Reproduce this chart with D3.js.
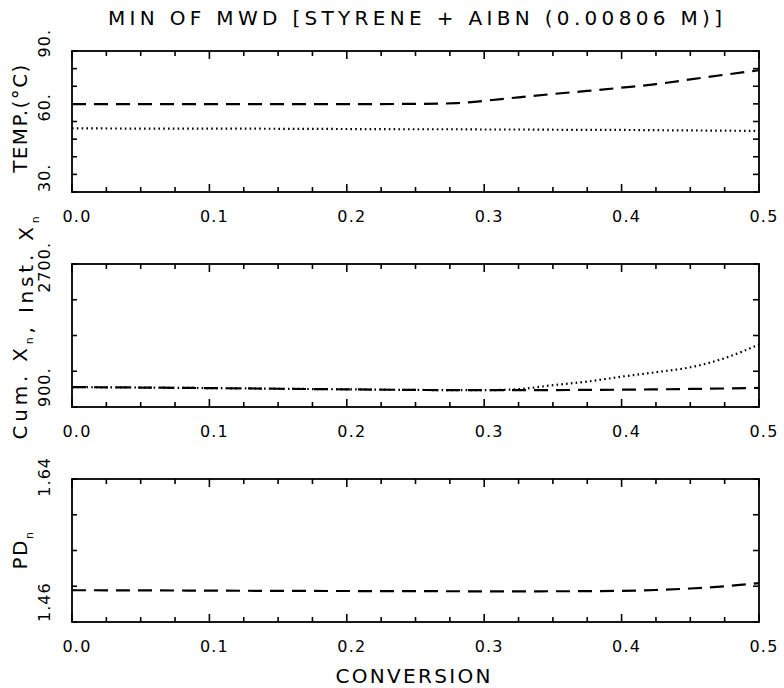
<!DOCTYPE html>
<html>
<head>
<meta charset="utf-8">
<script src="https://cdn.jsdelivr.net/npm/d3@7"></script>
<style>
  body { margin: 0; background: #fff; }
  svg { display: block; font-family: "DejaVu Sans", sans-serif; }
</style>
</head>
<body>
<div id="chart"></div>
<script>
// conversion grid shared by every curve
var conversion = [0, 0.05, 0.1, 0.15, 0.2, 0.25, 0.28, 0.3, 0.325, 0.35, 0.375, 0.4, 0.425, 0.45, 0.475, 0.5];

// panel 1 : temperature
var tempOpt  = [67.4, 67.4, 67.4, 67.4, 67.4, 67.5, 67.8, 68.8, 70.3, 71.7, 73.0, 74.4, 75.9, 77.9, 79.9, 81.8];
var tempIso  = [57.1, 57.0, 57.0, 56.9, 56.8, 56.7, 56.7, 56.6, 56.6, 56.5, 56.4, 56.4, 56.3, 56.2, 56.1, 56.0];

// panel 2 : number average chain length
var instXn = [1150, 1145, 1138, 1130, 1122, 1115, 1112, 1112, 1125, 1175, 1220, 1282, 1338, 1400, 1515, 1686];
var cumXn  = [1150, 1145, 1138, 1130, 1122, 1115, 1112, 1112, 1112, 1113, 1115, 1118, 1122, 1127, 1133, 1140];

// panel 3 : polydispersity
var pdn = [1.500, 1.4998, 1.4995, 1.4992, 1.499, 1.4988, 1.4987, 1.4986, 1.4986, 1.4987, 1.4988, 1.4992, 1.5003, 1.5022, 1.5050, 1.5090];

var xTickLabels = ["0.0", "0.1", "0.2", "0.3", "0.4", "0.5"];
var panels = [
  {top: 51,  bottom: 192, domain: [30, 90],     step: 7.5,   yTicks: [30, 60, 90],     yLabels: ["30.", "60.", "90."],
   series: [{v: tempOpt, dash: "14,8"}, {v: tempIso, dash: "1.6,3.2"}]},
  {top: 264, bottom: 407, domain: [900, 2700],  step: 450,   yTicks: [900, 2700],      yLabels: ["900.", "2700."],
   series: [{v: cumXn, dash: "14,8"}, {v: instXn, dash: "1.6,3.2"}]},
  {top: 479, bottom: 622, domain: [1.46, 1.64], step: 0.045, yTicks: [1.46, 1.64],     yLabels: ["1.46", "1.64"],
   series: [{v: pdn, dash: "14,8"}]}
];

var W = 784, H = 688;
var svg = d3.select("#chart").append("svg").attr("width", W).attr("height", H);

var x = d3.scaleLinear().domain([0, 0.5]).range([72, 759]);
var xt = d3.range(0, 0.5001, 0.025);
var majorX = d3.range(0, 0.5001, 0.1);
function isMajor(d) { return Math.abs(d * 10 - Math.round(d * 10)) < 1e-6; }

svg.append("text")
  .attr("x", 415).attr("y", 25)
  .attr("text-anchor", "middle")
  .attr("font-size", 20)
  .attr("textLength", 614).attr("lengthAdjust", "spacing")
  .text("MIN OF MWD [STYRENE + AIBN (0.00806 M)]");

panels.forEach(function(p, pi) {
  var y = d3.scaleLinear().domain(p.domain).range([p.bottom, p.top]);
  var g = svg.append("g");
  var yt = d3.range(p.domain[0], p.domain[1] + p.step / 2, p.step);

  // inward ticks, bottom and top
  [p.bottom, p.top].forEach(function(edge, k) {
    var dir = k === 0 ? -1 : 1;
    g.selectAll(null).data(xt).enter().append("line")
      .attr("x1", function(d) { return x(d); })
      .attr("x2", function(d) { return x(d); })
      .attr("y1", edge)
      .attr("y2", function(d) { return edge + dir * (isMajor(d) ? 8 : 5); })
      .attr("stroke", "#000").attr("stroke-width", 1.6);
  });
  // inward ticks, left and right
  [[x(0), 1, 5], [x(0.5), -1, 6]].forEach(function(s) {
    g.selectAll(null).data(yt).enter().append("line")
      .attr("x1", s[0]).attr("x2", s[0] + s[1] * s[2])
      .attr("y1", function(d) { return y(d); })
      .attr("y2", function(d) { return y(d); })
      .attr("stroke", "#000").attr("stroke-width", 1.6);
  });

  g.append("rect")
    .attr("x", x(0)).attr("y", p.top)
    .attr("width", x(0.5) - x(0)).attr("height", p.bottom - p.top)
    .attr("fill", "none").attr("stroke", "#000").attr("stroke-width", 1.8);

  // x tick labels
  g.selectAll(null).data(majorX).enter().append("text")
    .attr("x", function(d) { return x(d) + 5; })
    .attr("y", p.bottom + 30)
    .attr("text-anchor", "middle")
    .attr("font-size", 16).attr("letter-spacing", 1.2)
    .text(function(d, i) { return xTickLabels[i]; });

  // y tick labels, rotated; the top one sits above the frame
  var n = p.yTicks.length;
  g.selectAll(null).data(p.yTicks).enter().append("text")
    .attr("transform", function(d, i) {
      var yy = i === n - 1 ? y(d) - 22 : y(d);
      return "translate(50," + yy + ") rotate(-90)";
    })
    .attr("text-anchor", function(d, i) { return i === n - 1 ? "end" : "start"; })
    .attr("font-size", 16).attr("letter-spacing", 1)
    .text(function(d, i) { return p.yLabels[i]; });

  var line = d3.line()
    .x(function(d, i) { return x(conversion[i]); })
    .y(function(d) { return y(d); })
    .curve(d3.curveMonotoneX);

  p.series.forEach(function(s) {
    g.append("path")
      .attr("d", line(s.v))
      .attr("fill", "none")
      .attr("stroke", "#000")
      .attr("stroke-width", 2.2)
      .attr("stroke-dasharray", s.dash);
  });
});

// axis titles
function yTitle(cy, parts, spacing) {
  var t = svg.append("text")
    .attr("transform", "translate(27," + cy + ") rotate(-90)")
    .attr("text-anchor", "middle")
    .attr("font-size", 20)
    .attr("letter-spacing", spacing);
  parts.forEach(function(pt) {
    if (pt.sub) {
      t.append("tspan").attr("font-size", 11).attr("dy", 6).text(pt.s);
      t.append("tspan").attr("dy", -6).text("");
    } else {
      t.append("tspan").text(pt.s);
    }
  });
}
yTitle(118, [{s: "TEMP.(°C)"}], 1.4);
yTitle(326, [{s: "Cum. X"}, {s: "n", sub: true}, {s: ",  Inst. X"}, {s: "n", sub: true}], 3.8);
yTitle(550, [{s: "PD"}, {s: "n", sub: true}], 1.5);

svg.append("text")
  .attr("x", 413).attr("y", 683)
  .attr("text-anchor", "middle")
  .attr("font-size", 20)
  .attr("textLength", 155).attr("lengthAdjust", "spacing")
  .text("CONVERSION");
</script>
</body>
</html>
